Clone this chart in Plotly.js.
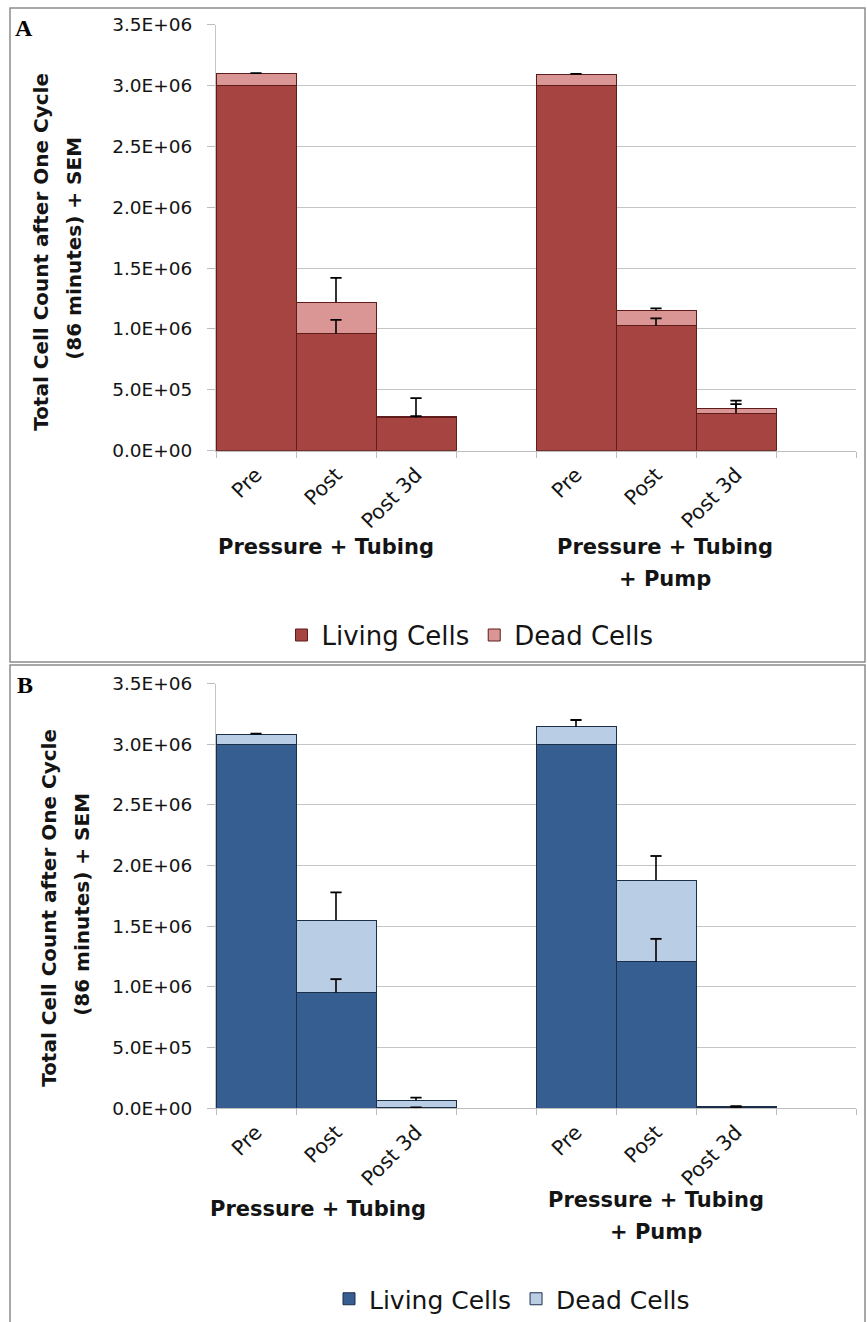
<!DOCTYPE html>
<html>
<head>
<meta charset="utf-8">
<script src="https://cdn.plot.ly/plotly-3.0.1.min.js"></script>
<style>html,body{margin:0;padding:0;background:#fff;}#chart{width:867px;height:1322px;}</style>
</head>
<body>
<div id="chart"></div>
<script>
// ---- data ----
const categories = ['Pre', 'Post', 'Post 3d'];
const groupNames = ['Pressure + Tubing', 'Pressure + Tubing', '+ Pump'];
const seriesNames = ['Living Cells', 'Dead Cells'];

// Panel A (red)
const livingA    = [3.00e6, 0.960e6, 0.272e6,   3.00e6, 1.025e6, 0.307e6];
const livingAerr = [0,      0.115e6, 0.012e6,   0,      0.063e6, 0.076e6];
const deadA      = [0.100e6, 0.260e6, 0.012e6,  0.095e6, 0.123e6, 0.043e6];
const deadAerr   = [0.003e6, 0.200e6, 0.148e6,  0.003e6, 0.022e6, 0.062e6];

// Panel B (blue)
const livingB    = [3.00e6, 0.954e6, 0.003e6,   3.00e6, 1.208e6, 0.010e6];
const livingBerr = [0,      0.110e6, 0.003e6,   0,      0.188e6, 0.002e6];
const deadB      = [0.082e6, 0.595e6, 0.062e6,  0.145e6, 0.671e6, 0.005e6];
const deadBerr   = [0.006e6, 0.230e6, 0.022e6,  0.055e6, 0.200e6, 0.003e6];

const yTickVals = [0, 0.5e6, 1.0e6, 1.5e6, 2.0e6, 2.5e6, 3.0e6, 3.5e6];
const yTickText = ['0.0E+00','5.0E+05','1.0E+06','1.5E+06','2.0E+06','2.5E+06','3.0E+06','3.5E+06'];

// ---- positions: 2 groups of 3 categories, one empty slot after each group ----
const nGroups = 2;
const xPos = [], xText = [];
for (let g = 0; g < nGroups; g++) {
  categories.forEach((c, i) => { xPos.push(g * (categories.length + 1) + i); xText.push(c); });
}
const nSlots = nGroups * (categories.length + 1);

const W = 867, H = 1322;
const px = v => v / W;
const py = v => 1 - v / H;

const FONT = 'DejaVu Sans, Arial, sans-serif';
const TXT = '#141414';

const stackTop = (a, b) => a.map((v, i) => v + b[i]);

// "+ SEM" error bars: vertical stem (no caps) + a cap marker at the top only
function errTraces(base, err, xa, ya) {
  const keep = err.map(e => e > 0);
  const xs = xPos.filter((_, i) => keep[i]);
  const ys = base.filter((_, i) => keep[i]);
  const es = err.filter((_, i) => keep[i]);
  return [
    {type: 'scatter', mode: 'markers', x: xs, y: ys, xaxis: xa, yaxis: ya, showlegend: false, hoverinfo: 'skip',
     marker: {size: 1, opacity: 0},
     error_y: {type: 'data', symmetric: false, array: es, arrayminus: es.map(() => 0),
               color: '#000', thickness: 1.6, width: 0}},
    {type: 'scatter', mode: 'markers', x: xs, y: ys.map((v, i) => v + es[i]), xaxis: xa, yaxis: ya,
     showlegend: false, hoverinfo: 'skip',
     marker: {symbol: 'line-ew', size: 8, color: '#000', line: {color: '#000', width: 1.8}}}
  ];
}

function panelTraces(living, livingErr, dead, deadErr, xa, ya, leg, cLive, cDead, cLine) {
  return [
    {type: 'bar', name: seriesNames[0], x: xPos, y: living, xaxis: xa, yaxis: ya, legend: leg, width: 1,
     marker: {color: cLive, line: {color: cLine, width: 1}}},
    {type: 'bar', name: seriesNames[1], x: xPos, y: dead, xaxis: xa, yaxis: ya, legend: leg, width: 1,
     marker: {color: cDead, line: {color: cLine, width: 1}}}
  ].concat(
    errTraces(living, livingErr, xa, ya),
    errTraces(stackTop(living, dead), deadErr, xa, ya)
  );
}

const traces = [].concat(
  panelTraces(livingA, livingAerr, deadA, deadAerr, 'x', 'y', 'legend', '#A64442', '#D99695', '#5e1d1c'),
  panelTraces(livingB, livingBerr, deadB, deadBerr, 'x2', 'y2', 'legend2', '#365E91', '#B9CDE5', '#1c2f4a')
);

const xDomain = [px(216), px(856)];

function xAxis(anchor) {
  return {
    domain: xDomain, anchor: anchor, range: [-0.5, nSlots - 0.5],
    tickmode: 'array', tickvals: xPos, ticktext: xText, tickangle: -45,
    ticks: '', ticklabelstandoff: 3,
    tickfont: {family: FONT, size: 20.5, color: TXT},
    showgrid: false, zeroline: false, showline: true, linecolor: '#bdbdbd', linewidth: 1,
    minor: {tickmode: 'linear', tick0: -0.5, dtick: 1, ticks: 'outside', ticklen: 6, tickcolor: '#bdbdbd', tickwidth: 1, showgrid: false},
    fixedrange: true
  };
}
function yAxis(anchor, top, bottom) {
  return {
    domain: [py(bottom), py(top)], anchor: anchor, range: [0, 3.5e6],
    tickmode: 'array', tickvals: yTickVals, ticktext: yTickText,
    ticks: 'outside', ticklen: 8, tickcolor: '#bdbdbd', ticklabelstandoff: 11,
    tickfont: {family: FONT, size: 18.5, color: TXT},
    showgrid: true, gridcolor: '#c4c4c4', gridwidth: 1, zeroline: false,
    showline: true, linecolor: '#c4c4c4', linewidth: 1, fixedrange: true
  };
}

function ann(text, x, y, opts) {
  return Object.assign({text: text, x: px(x), y: py(y), xref: 'paper', yref: 'paper',
    showarrow: false, xanchor: 'center', yanchor: 'middle',
    font: {family: FONT, size: 20, color: TXT}}, opts || {});
}

const boldFont = s => ({family: FONT, size: s, color: TXT, weight: 'bold'});
const yTitle1 = 'Total Cell Count after One Cycle';
const yTitle2 = '(86 minutes) + SEM';
const letterFont = {family: 'Liberation Serif, Times New Roman, serif', size: 24, color: '#000', weight: 'bold'};

const annotations = [
  // Panel letters
  ann('<b>A</b>', 24, 28, {font: letterFont}),
  ann('<b>B</b>', 25, 688, {font: letterFont}),
  // y titles
  ann('<b>' + yTitle1 + '</b>', 41, 253, {textangle: -90, font: boldFont(20)}),
  ann('<b>' + yTitle2 + '</b>', 74, 250, {textangle: -90, font: boldFont(20)}),
  ann('<b>' + yTitle1 + '</b>', 49, 912, {textangle: -90, font: boldFont(20)}),
  ann('<b>' + yTitle2 + '</b>', 82, 909, {textangle: -90, font: boldFont(20)}),
  // group labels A
  ann('<b>' + groupNames[0] + '</b>', 326, 549, {font: boldFont(21)}),
  ann('<b>' + groupNames[1] + '</b>', 665, 549, {font: boldFont(21)}),
  ann('<b>' + groupNames[2] + '</b>', 665, 582, {font: boldFont(21)}),
  // group labels B
  ann('<b>' + groupNames[0] + '</b>', 318, 1215, {font: boldFont(21)}),
  ann('<b>' + groupNames[1] + '</b>', 656, 1205, {font: boldFont(21)}),
  ann('<b>' + groupNames[2] + '</b>', 656, 1238, {font: boldFont(21)})
];

const shapes = [
  {type: 'rect', xref: 'paper', yref: 'paper', x0: px(10), x1: px(865), y0: py(665), y1: py(8),
   line: {color: '#8c8c8c', width: 1.5}},
  {type: 'rect', xref: 'paper', yref: 'paper', x0: px(10), x1: px(865), y0: py(1330), y1: py(668),
   line: {color: '#8c8c8c', width: 1.5}}
];

const layout = {
  width: W, height: H, margin: {l: 0, r: 0, t: 0, b: 0},
  paper_bgcolor: '#fff', plot_bgcolor: '#fff',
  barmode: 'stack', bargap: 0,
  xaxis: xAxis('y'), yaxis: yAxis('x', 25, 452.7),
  xaxis2: xAxis('y2'), yaxis2: yAxis('x2', 686.7, 1113.3),
  legend: {orientation: 'h', x: px(470), y: py(638), xanchor: 'center', yanchor: 'middle',
           font: {family: FONT, size: 26, color: TXT}, bgcolor: 'rgba(0,0,0,0)', traceorder: 'normal', itemwidth: 30},
  legend2: {orientation: 'h', x: px(512), y: py(1305), xanchor: 'center', yanchor: 'middle',
           font: {family: FONT, size: 25, color: TXT}, bgcolor: 'rgba(0,0,0,0)', traceorder: 'normal', itemwidth: 30},
  showlegend: true,
  annotations: annotations, shapes: shapes
};

Plotly.newPlot('chart', traces, layout, {displayModeBar: false, staticPlot: true});
</script>
</body>
</html>
